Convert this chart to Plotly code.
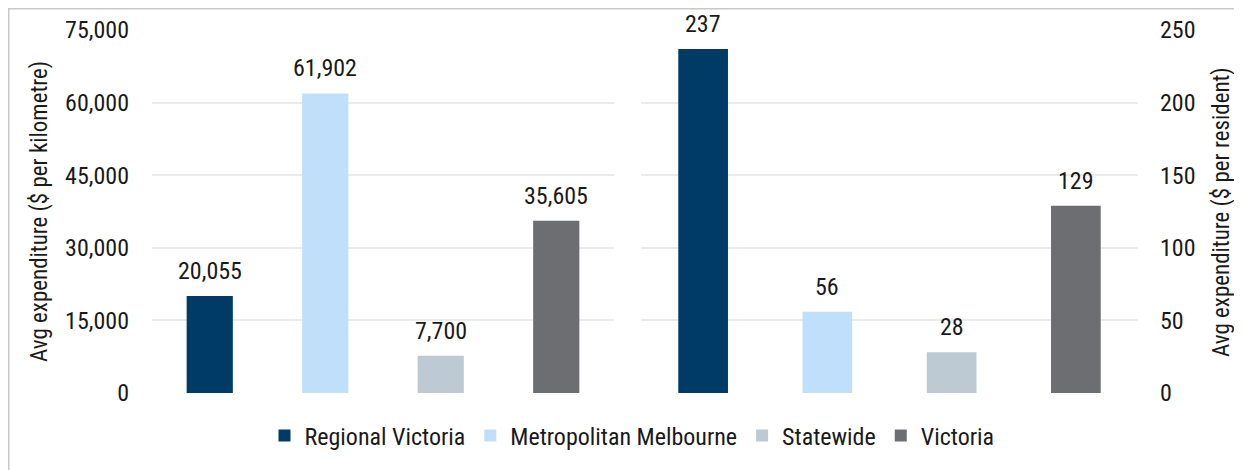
import plotly.graph_objects as go

categories = ["Regional Victoria", "Metropolitan Melbourne", "Statewide", "Victoria"]
per_km = [20055, 61902, 7700, 35605]
per_resident = [237, 56, 28, 129]
colors = ["#003B66", "#BFDFFB", "#BDCAD4", "#6D6E71"]
left_ticks = [0, 15000, 30000, 45000, 60000, 75000]
right_ticks = [0, 50, 100, 150, 200, 250]

FONT = "Roboto Condensed, Liberation Sans Narrow, Roboto, sans-serif"
W, H = 1242, 470
OFF = 8  # page body offset

def px_x(p):
    return (p - OFF) / W

def px_y(p):
    return 1 - (p - OFF) / H

TXT = "#1a1a1a"

fig = go.Figure()
for i, cat in enumerate(categories):
    fig.add_trace(go.Bar(x=[cat], y=[per_km[i]], name=cat, marker_color=colors[i],
                         width=0.4, xaxis="x", yaxis="y", showlegend=True,
                         marker_line_width=0))
    fig.add_trace(go.Bar(x=[cat], y=[per_resident[i]], name=cat, marker_color=colors[i],
                         width=0.4, xaxis="x2", yaxis="y2", showlegend=False,
                         marker_line_width=0))

annotations = []
for i, cat in enumerate(categories):
    annotations.append(dict(x=cat, y=per_km[i], xref="x", yref="y", text=f"{per_km[i]:,}",
                            showarrow=False, yanchor="bottom", yshift=9,
                            font=dict(family=FONT, size=24, color=TXT)))
    annotations.append(dict(x=cat, y=per_resident[i], xref="x2", yref="y2", text=f"{per_resident[i]:,}",
                            showarrow=False, yanchor="bottom", yshift=9,
                            font=dict(family=FONT, size=24, color=TXT)))

annotations.append(dict(x=px_x(40), y=px_y(212), xref="paper", yref="paper",
                        text="Avg expenditure ($ per kilometre)", textangle=-90, showarrow=False,
                        font=dict(family=FONT, size=23, color=TXT),
                        xanchor="center", yanchor="middle"))
annotations.append(dict(x=px_x(1222), y=px_y(212), xref="paper", yref="paper",
                        text="Avg expenditure ($ per resident)", textangle=-90, showarrow=False,
                        font=dict(family=FONT, size=23, color=TXT),
                        xanchor="center", yanchor="middle"))

ydom = [px_y(393), px_y(30)]
grid = "#EBEBEB"

fig.update_layout(
    width=W, height=H,
    margin=dict(l=0, r=0, t=0, b=0, autoexpand=False),
    paper_bgcolor="white", plot_bgcolor="white",
    barmode="overlay",
    font=dict(family=FONT, size=24, color=TXT),
    xaxis=dict(domain=[px_x(152), px_x(614)], showticklabels=False, showgrid=False,
               zeroline=False, showline=False, ticks="", categoryorder="array",
               categoryarray=categories, automargin=False),
    xaxis2=dict(domain=[px_x(641), px_x(1138)], showticklabels=False, showgrid=False,
                zeroline=False, showline=False, ticks="", categoryorder="array",
                categoryarray=categories, automargin=False),
    yaxis=dict(domain=ydom, range=[0, 75000], tickvals=left_ticks,
               ticktext=[f"{v:,}" for v in left_ticks], showgrid=True, gridcolor=grid,
               gridwidth=1.5, zeroline=False, showline=False, ticks="", ticklen=0,
               ticklabelstandoff=22, automargin=False,
               tickfont=dict(family=FONT, size=24, color=TXT), anchor="x"),
    yaxis2=dict(domain=ydom, range=[0, 250], tickvals=right_ticks,
                ticktext=[str(v) for v in right_ticks], showgrid=True, gridcolor=grid,
                gridwidth=1.5, zeroline=False, showline=False, side="right", anchor="x2",
                tickfont=dict(family=FONT, size=24, color=TXT), ticks="", ticklen=0,
                ticklabelstandoff=21, automargin=False),
    legend=dict(orientation="h", x=px_x(632), xanchor="center", y=px_y(436), yanchor="middle",
                font=dict(family=FONT, size=24, color=TXT), itemwidth=30,
                bgcolor="rgba(0,0,0,0)"),
    annotations=annotations,
    shapes=[
        dict(type="line", xref="paper", yref="paper", x0=0, x1=1, y0=1 - 0.75 / H, y1=1 - 0.75 / H,
             line=dict(color="#C8C8C8", width=1.5)),
        dict(type="line", xref="paper", yref="paper", x0=0.75 / W, x1=0.75 / W, y0=0, y1=1,
             line=dict(color="#C8C8C8", width=1.5)),
    ],
)

fig.write_html("out.html")
